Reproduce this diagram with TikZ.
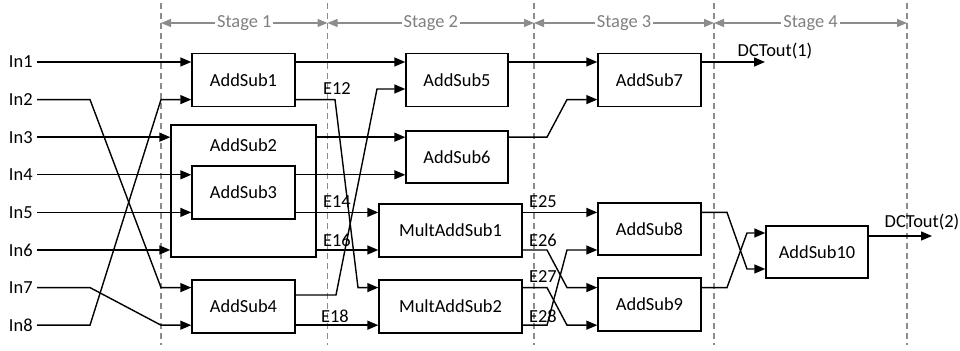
\documentclass[tikz,border=0pt]{standalone}
\usepackage{fontspec}
\setmainfont{Carlito}
\usetikzlibrary{arrows.meta,positioning}

\begin{document}
\begin{tikzpicture}[x=0.5pt,y=-0.5pt,
	font=\fontsize{9.2}{11}\selectfont,
	block/.style={draw,line width=0.7pt,minimum width=51.5pt,minimum height=26.5pt,inner sep=0pt},
	wide/.style={block,minimum width=71.5pt},
	arr/.style={line width=0.7pt,-{Triangle[length=5.5pt,width=4.5pt]}},
	stageline/.style={black!45,line width=0.6pt,dash pattern=on 3pt off 2pt},
	stagearr/.style={black!45,line width=0.6pt,{Triangle[length=5pt,width=4pt]}-{Triangle[length=5pt,width=4pt]}},
	elabel/.style={inner sep=0pt}]
	\useasboundingbox (0,0) rectangle (960,351);
	%Stage borders and stage arrows
	\foreach \x [count=\k] in {161,327.5,534,714,907} {
		\coordinate (dtop\k) at (\x,3);
		\coordinate (dbot\k) at (\x,345);
		\coordinate (dmid\k) at (\x,23);
		\draw[stageline] (dtop\k) -- (dbot\k);
	}
	\foreach \k/\n in {1/2,2/3,3/4,4/5} {
		\draw[stagearr] (dmid\k) -- node[fill=white,text=black!50,inner sep=1pt] (stage\k) {Stage \k} (dmid\n);
	}
	%Inputs
	\foreach \i in {1,...,8} {
		\coordinate (r\i) at (0,24.4+37.6*\i);
		\node (in\i) [anchor=east,inner sep=2pt] at (37,24.4+37.6*\i) {In\i};
	}
	%Extra port rows
	\coordinate (ra) at (0,89);
	\coordinate (rb) at (0,295);
	\coordinate (rc) at (0,233);
	\coordinate (rd) at (0,269);
	\coordinate (re) at (0,236);
	%Blocks
	\node (as1) [block] at (243.5,80) {AddSub1};
	\node (as2) [block,minimum width=72.5pt,minimum height=66pt] at (243.5,191) {};
	\node (as2t) at ([yshift=-10.5pt]as2.north) {AddSub2};
	\node (as3) [block] at (243.5,192.5) {AddSub3};
	\node (as4) [block] at (243.5,306.5) {AddSub4};
	\node (as5) [block,minimum width=51pt] at (457,80) {AddSub5};
	\node (as6) [block,minimum width=51pt,minimum height=26pt] at (457,157) {AddSub6};
	\node (mas1) [wide] at (450.5,230.5) {MultAddSub1};
	\node (mas2) [wide] at (450.5,306.5) {MultAddSub2};
	\node (as7) [block] at (649.5,80) {AddSub7};
	\node (as8) [block,minimum height=26pt] at (649.5,229) {AddSub8};
	\node (as9) [block] at (649.5,304.5) {AddSub9};
	\node (as10) [block,minimum width=51pt,minimum height=26pt] at (817,252) {AddSub10};
	%Stage 1 wiring
	\coordinate (k2a) at (90,99.6);
	\coordinate (k2b) at (161,287.6);
	\coordinate (k7a) at (90,287.6);
	\coordinate (k7b) at (161,325.2);
	\coordinate (k8a) at (90,325.2);
	\coordinate (k8b) at (161,99.6);
	\draw[arr] (in1.east) -- (as1.west|-r1);
	\draw[arr] (in2.east) -- (k2a) -- (k2b) -- (as4.west|-r7);
	\draw[arr] (in3.east) -- (as2.west|-r3);
	\draw[arr] (in4.east) -- (as3.west|-r4);
	\draw[arr] (in5.east) -- (as3.west|-r5);
	\draw[arr] (in6.east) -- (as2.west|-r6);
	\draw[arr] (in7.east) -- (k7a) -- (k7b) -- (as4.west|-r8);
	\draw[arr] (in8.east) -- (k8a) -- (k8b) -- (as1.west|-r2);
	%Stage 2 wiring
	\coordinate (k12a) at (335,99.6);
	\coordinate (k12b) at (358,287.6);
	\coordinate (k4a) at (336,295);
	\coordinate (k4b) at (377,89);
	\draw[arr] (as1.east|-r1) -- (as5.west|-r1);
	\draw[arr] (as1.east|-r2) -- (k12a) -- (k12b) -- (mas2.west|-r7);
	\draw[arr] (as4.east|-rb) -- (k4a) -- (k4b) -- (as5.west|-ra);
	\draw[arr] (as2.east|-r3) -- (as6.west|-r3);
	\draw[arr] (as3.east|-r4) -- (as6.west|-r4);
	\draw[arr] (as3.east|-r5) -- (mas1.west|-r5);
	\draw[arr] (as2.east|-r6) -- (mas1.west|-r6);
	\draw[arr] (as4.east|-r8) -- (mas2.west|-r8);
	\node (e12) [elabel] at (337,89) {E12};
	\node (e14) [elabel] at (337,202) {E14};
	\node (e16) [elabel] at (337,240) {E16};
	\node (e18) [elabel] at (335,316) {E18};
	%Stage 3 wiring
	\coordinate (k6a) at (547,137.2);
	\coordinate (k6b) at (567,99.6);
	\coordinate (k26a) at (547,250);
	\coordinate (k26b) at (567,287.6);
	\coordinate (k27a) at (547,287.6);
	\coordinate (k27b) at (567,325.2);
	\coordinate (k28a) at (547,325.2);
	\coordinate (k28b) at (567,250);
	\draw[arr] (as5.east|-r1) -- (as7.west|-r1);
	\draw[arr] (as6.east|-r3) -- (k6a) -- (k6b) -- (as7.west|-r2);
	\draw[arr] (mas1.east|-r5) -- (as8.west|-r5);
	\draw[arr] (mas1.east|-r6) -- (k26a) -- (k26b) -- (as9.west|-r7);
	\draw[arr] (mas2.east|-r7) -- (k27a) -- (k27b) -- (as9.west|-r8);
	\draw[arr] (mas2.east|-r8) -- (k28a) -- (k28b) -- (as8.west|-r6);
	\node (e25) [elabel] at (543,202) {E25};
	\node (e26) [elabel] at (543,240) {E26};
	\node (e27) [elabel] at (543,277) {E27};
	\node (e28) [elabel] at (543,316) {E28};
	%Stage 4 wiring
	\coordinate (o1) at (765,62);
	\coordinate (k8c) at (727,212.4);
	\coordinate (k8d) at (747,269);
	\coordinate (k9c) at (727,287.6);
	\coordinate (k9d) at (747,233);
	\coordinate (o2) at (932,236);
	\draw[arr] (as7.east|-r1) -- (o1);
	\node (dct1) [elabel] at (775,51) {DCTout(1)};
	\draw[arr] (as8.east|-r5) -- (k8c) -- (k8d) -- (as10.west|-rd);
	\draw[arr] (as9.east|-r7) -- (k9c) -- (k9d) -- (as10.west|-rc);
	\draw[arr] (as10.east|-re) -- (o2);
	\node (dct2) [elabel] at (922,222) {DCTout(2)};
\end{tikzpicture}
\end{document}
